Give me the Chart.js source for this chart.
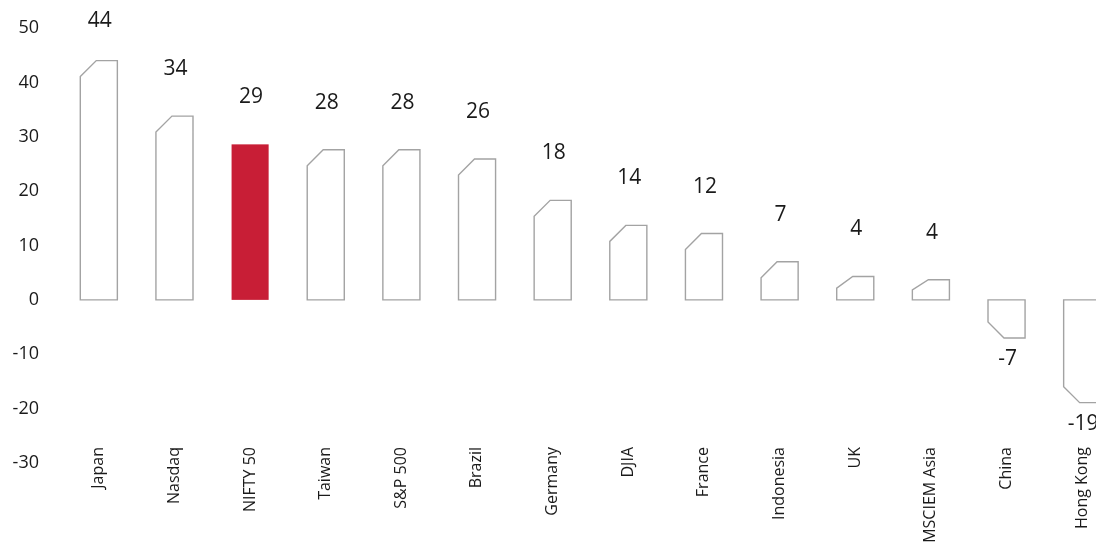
<!DOCTYPE html>
<html>
<head>
<meta charset="utf-8">
<script src="https://cdn.jsdelivr.net/npm/chart.js@4.4.1/dist/chart.umd.min.js"></script>
<style>
  html, body { margin: 0; padding: 0; background: #fff; overflow: hidden; }
  #wrap { width: 1120px; height: 548px; }
</style>
</head>
<body>
<div id="wrap"><canvas id="chart"></canvas></div>
<script>
const markets = ['Japan', 'Nasdaq', 'NIFTY 50', 'Taiwan', 'S&P 500', 'Brazil', 'Germany', 'DJIA', 'France', 'Indonesia', 'UK', 'MSCIEM Asia', 'China', 'Hong Kong'];
const returns = [44, 33.8, 28.6, 27.6, 27.6, 25.9, 18.3, 13.7, 12.2, 7.0, 4.3, 3.7, -7.0, -18.9];
const highlight = 'NIFTY 50';
const yTicks = { min: -30, max: 50, step: 10 };

const FONT = '"Open Sans", "Noto Sans", sans-serif';
const TEXT = '#1a1a1a';

// draws the outlined bars with the cut corner, and the value labels
const chamferBars = {
  id: 'chamferBars',
  afterDatasetsDraw(chart) {
    const ctx = chart.ctx;
    const meta = chart.getDatasetMeta(0);
    ctx.save();
    meta.data.forEach((bar, i) => {
      const { x, y, base, width } = bar.getProps(['x', 'y', 'base', 'width'], true);
      const left = x - width / 2, right = x + width / 2;
      const top = Math.min(y, base), bottom = Math.max(y, base);
      const h = bottom - top;
      const ch = 16, cv = Math.min(16, h / 2);

      if (markets[i] === highlight) {
        ctx.fillStyle = '#c81e36';
        ctx.fillRect(left, top, width, h);
      } else {
        ctx.beginPath();
        if (returns[i] >= 0) {
          ctx.moveTo(left, bottom);
          ctx.lineTo(left, top + cv);
          ctx.lineTo(left + ch, top);
          ctx.lineTo(right, top);
          ctx.lineTo(right, bottom);
        } else {
          ctx.moveTo(left, top);
          ctx.lineTo(right, top);
          ctx.lineTo(right, bottom);
          ctx.lineTo(left + ch, bottom);
          ctx.lineTo(left, bottom - cv);
        }
        ctx.closePath();
        ctx.fillStyle = '#fff';
        ctx.fill();
        ctx.strokeStyle = '#a3a3a3';
        ctx.lineWidth = 1.4;
        ctx.stroke();
      }

      ctx.fillStyle = TEXT;
      ctx.font = '21px ' + FONT;
      ctx.textAlign = 'center';
      ctx.textBaseline = 'middle';
      const ly = returns[i] >= 0 ? Math.max(top - 47, 21) : bottom + 21;
      ctx.fillText(String(Math.round(returns[i])), x + 1, ly);
    });
    ctx.restore();
  }
};

new Chart(document.getElementById('chart'), {
  type: 'bar',
  data: {
    labels: markets,
    datasets: [{
      data: returns,
      backgroundColor: 'rgba(0,0,0,0)',
      borderWidth: 0,
      barPercentage: 0.49,
      categoryPercentage: 1
    }]
  },
  options: {
    responsive: true,
    maintainAspectRatio: false,
    animation: false,
    layout: { padding: { top: 28, right: 0, left: 0, bottom: 0 } },
    plugins: { legend: { display: false }, tooltip: { enabled: false } },
    scales: {
      x: {
        grid: { display: false, drawTicks: false },
        border: { display: false },
        afterFit(scale) { scale.height = 85; scale.paddingTop = 0; scale.paddingBottom = 0; },
        ticks: {
          autoSkip: false,
          minRotation: 90,
          maxRotation: 90,
          mirror: true,   // mirror turns off label clipping, so the labels can start above the axis
          padding: 16,
          color: TEXT,
          font: { family: FONT, size: 16, lineHeight: 0.01 }
        }
      },
      y: {
        min: yTicks.min,
        max: yTicks.max,
        grid: { display: false, drawTicks: false },
        border: { display: false },
        afterFit(scale) { scale.width = 61; scale.paddingTop = 0; scale.paddingBottom = 0; },
        ticks: {
          stepSize: yTicks.step,
          padding: 22,
          color: TEXT,
          font: { family: FONT, size: 18 }
        }
      }
    }
  },
  plugins: [chamferBars]
});
</script>
</body>
</html>
